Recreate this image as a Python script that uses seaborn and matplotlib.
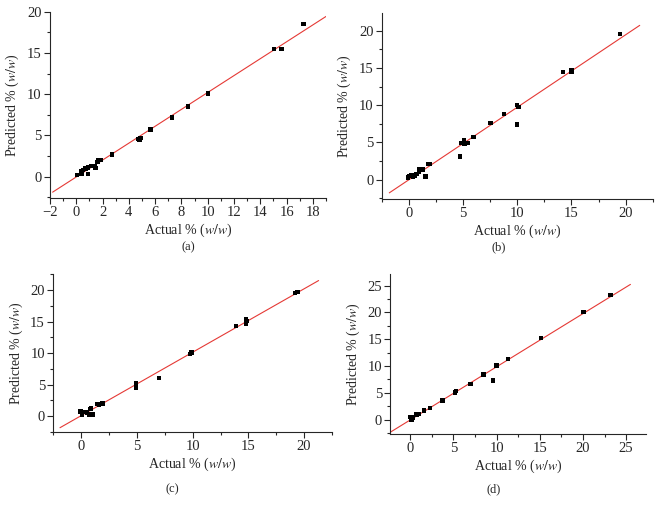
import numpy as np
import pandas as pd
import seaborn as sns
import matplotlib.pyplot as plt
from matplotlib.ticker import AutoMinorLocator, MultipleLocator

# panel (a)
a_actual = [0.05, 0.4, 0.4, 0.5, 0.7, 0.9, 0.9, 1.1, 1.4, 1.45, 1.6, 1.7, 1.9, 2.7,
            4.7, 4.8, 4.9, 5.65, 7.3, 8.5, 10.0, 15.05, 15.6, 17.3]
a_pred = [0.2, 0.6, 0.3, 0.8, 1.0, 0.35, 1.1, 1.3, 1.3, 1.05, 1.8, 2.0, 2.0, 2.7,
          4.6, 4.5, 4.7, 5.7, 7.2, 8.5, 10.1, 15.5, 15.5, 18.5]
# panel (b)
b_actual = [-0.05, 0.0, 0.25, 0.4, 0.55, 0.7, 0.95, 1.0, 1.3, 1.55, 1.8, 1.95,
            4.7, 4.8, 5.1, 5.15, 5.4, 5.95, 7.55, 8.8, 10.0, 10.0, 10.1,
            14.2, 15.0, 15.0, 19.5]
b_pred = [0.3, 0.5, 0.55, 0.4, 0.55, 0.75, 1.0, 1.45, 1.35, 0.45, 2.1, 2.1,
          3.1, 4.95, 5.35, 4.8, 4.9, 5.7, 7.65, 8.85, 7.4, 10.0, 9.75,
          14.5, 14.75, 14.5, 19.6]
# panel (c)
c_actual = [-0.05, 0.05, 0.15, 0.55, 0.7, 0.85, 0.9, 1.05, 1.45, 1.6, 1.9,
            4.9, 4.9, 7.0, 9.75, 9.9, 13.9, 14.8, 14.8, 14.9, 19.2, 19.4]
c_pred = [0.74, 0.3, 0.7, 0.6, 0.3, 1.1, 1.25, 0.3, 1.9, 1.8, 2.05,
          5.2, 4.45, 6.1, 9.9, 10.1, 14.3, 14.7, 15.35, 15.1, 19.5, 19.7]
# panel (d)
d_actual = [0.05, 0.15, 0.25, 0.75, 1.0, 1.6, 2.3, 3.75, 5.2, 5.3, 7.0, 8.5,
            9.6, 10.0, 11.35, 15.15, 20.05, 23.2]
d_pred = [0.5, 0.0, 0.45, 0.95, 1.05, 1.7, 2.2, 3.55, 5.1, 5.3, 6.7, 8.4,
          7.3, 10.1, 11.3, 15.25, 20.1, 23.25]

panel_names = ['(a)', '(b)', '(c)', '(d)']
fit_ranges = [(-1.8, 19.0), (-1.8, 21.3), (-1.9, 21.3), (-2.5, 25.5)]
x_limits = [(-2, 19), (-2.5, 22.5), (-2.5, 22.5), (-2.3, 27.3)]
y_limits = [(-2.6, 20), (-2.6, 22.4), (-2.5, 22.6), (-2.6, 27.2)]
x_steps = [2, 5, 5, 5]
y_steps = [5, 5, 5, 5]

# axes rectangles in figure fractions [left, bottom, width, height]
rects = [[0.0755, 0.617, 0.417, 0.360],
         [0.5766, 0.615, 0.4094, 0.360],
         [0.0805, 0.1644, 0.421, 0.3062],
         [0.5896, 0.1611, 0.3862, 0.3095]]
label_pos = [(0.284, 0.522), (0.754, 0.522), (0.260, 0.053), (0.746, 0.053)]

sns.set_style('ticks')
plt.rcParams['font.family'] = ['Liberation Serif', 'DejaVu Serif']
plt.rcParams['mathtext.fontset'] = 'stix'

fig = plt.figure(figsize=(6.62, 5.17), dpi=100)

data = [(a_actual, a_pred), (b_actual, b_pred), (c_actual, c_pred), (d_actual, d_pred)]
for i, (xs, ys) in enumerate(data):
    ax = fig.add_axes(rects[i])
    df = pd.DataFrame({'actual': xs, 'predicted': ys})
    slope, icpt = np.polyfit(df['actual'], df['predicted'], 1)
    lx = np.array(fit_ranges[i])
    line = pd.DataFrame({'x': lx, 'y': slope * lx + icpt})
    sns.lineplot(data=line, x='x', y='y', ax=ax, color='#e53935', linewidth=0.8)
    sns.scatterplot(data=df, x='actual', y='predicted', ax=ax, marker='s',
                    s=10, color='black', edgecolor='none', zorder=3)
    ax.set_xlim(*x_limits[i])
    ax.set_ylim(*y_limits[i])
    ax.xaxis.set_major_locator(MultipleLocator(x_steps[i]))
    ax.yaxis.set_major_locator(MultipleLocator(y_steps[i]))
    ax.xaxis.set_minor_locator(AutoMinorLocator(2))
    ax.yaxis.set_minor_locator(AutoMinorLocator(2))
    sns.despine(ax=ax)
    ax.tick_params(which='major', direction='out', length=4, width=0.8, labelsize=10.5, pad=2)
    ax.tick_params(which='minor', direction='out', length=2.5, width=0.8)
    for s in ax.spines.values():
        s.set_linewidth(0.8)
    ax.set_xlabel('Actual % ($w/w$)', fontsize=10, labelpad=2)
    ax.set_ylabel('Predicted % ($w/w$)', fontsize=10, labelpad=4)
    fig.text(label_pos[i][0], label_pos[i][1], panel_names[i], ha='center', va='center', fontsize=9)

fig.savefig('out.png', dpi=100)
